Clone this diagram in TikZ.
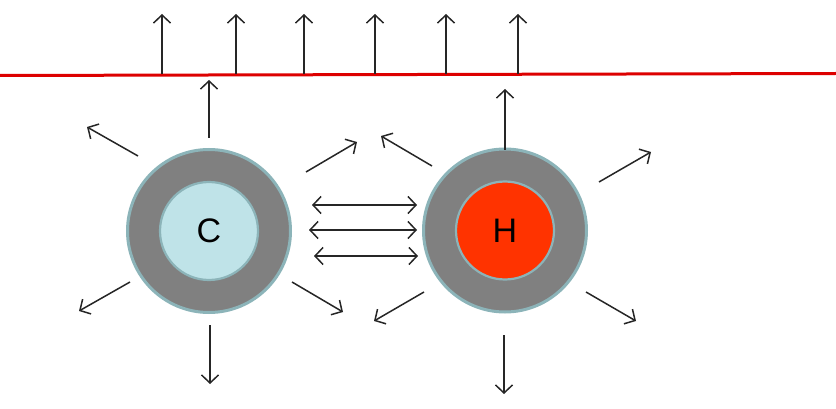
\documentclass[tikz,border=0pt]{standalone}
\usepackage{fontspec}
\setmainfont{Liberation Sans}
\usetikzlibrary{arrows.meta}
\definecolor{rim}{HTML}{8CB4B9}
\definecolor{shell}{HTML}{808080}
\definecolor{coldcore}{HTML}{BFE3E8}
\definecolor{hotcore}{HTML}{FF3300}
\definecolor{surface}{HTML}{DD0000}
\begin{document}
\begin{tikzpicture}[x=1pt,y=-1pt,
  flow/.style={line width=1.5pt,draw=black!85,-{Straight Barb[length=8pt,width=17pt,line width=1.5pt]}},
  flowboth/.style={line width=1.5pt,draw=black!85,{Straight Barb[length=8pt,width=17pt,line width=1.5pt]}-{Straight Barb[length=8pt,width=17pt,line width=1.5pt]}},
  shellball/.style={circle,fill=shell,draw=rim,line width=3pt,minimum size=163pt,inner sep=0pt},
  coreball/.style={circle,draw=rim,line width=2.2pt,minimum size=98pt,inner sep=0pt,font=\fontsize{34}{34}\selectfont}]
\useasboundingbox (0,0) rectangle (836,409);
% red surface line
\coordinate (sl) at (0,75.5);
\coordinate (sr) at (836,73.5);
\draw[surface,line width=3pt] (sl) -- (sr);
% top arrows
\foreach \i/\x in {1/162,2/236,3/304,4/375,5/446,6/518}{
  \coordinate (b\i) at (\x,74);
  \coordinate (t\i) at (\x,14);
  \draw[flow] (b\i) -- (t\i);
}
% spheres
\node[shellball] (Cs) at (209,231) {};
\node[coreball,fill=coldcore] (C) at (209,231) {C};
\node[shellball] (Hs) at (505,230.5) {};
\node[coreball,fill=hotcore] (H) at (505,230.5) {H};
% arrows around C
\coordinate (cu0) at (209,138); \coordinate (cu1) at (209,80);
\coordinate (cul0) at (138,156); \coordinate (cul1) at (87,127);
\coordinate (cur0) at (306,172); \coordinate (cur1) at (357,142);
\coordinate (cdl0) at (130,282); \coordinate (cdl1) at (79,311);
\coordinate (cdr0) at (292,282); \coordinate (cdr1) at (343,312);
\coordinate (cd0) at (210,325); \coordinate (cd1) at (210,384);
\draw[flow] (cu0) -- (cu1);
\draw[flow] (cul0) -- (cul1);
\draw[flow] (cur0) -- (cur1);
\draw[flow] (cdl0) -- (cdl1);
\draw[flow] (cdr0) -- (cdr1);
\draw[flow] (cd0) -- (cd1);
% arrows around H
\coordinate (hu0) at (505,150); \coordinate (hu1) at (505,89);
\coordinate (hul0) at (432,166); \coordinate (hul1) at (381,136);
\coordinate (hur0) at (599,182); \coordinate (hur1) at (651,152);
\coordinate (hdl0) at (424,292); \coordinate (hdl1) at (374,321);
\coordinate (hdr0) at (586,292); \coordinate (hdr1) at (636,321);
\coordinate (hd0) at (504,335); \coordinate (hd1) at (504,394);
\draw[flow] (hu0) -- (hu1);
\draw[flow] (hul0) -- (hul1);
\draw[flow] (hur0) -- (hur1);
\draw[flow] (hdl0) -- (hdl1);
\draw[flow] (hdr0) -- (hdr1);
\draw[flow] (hd0) -- (hd1);
% exchange arrows
\coordinate (e1a) at (312,205); \coordinate (e1b) at (417,205);
\coordinate (e2a) at (309,230); \coordinate (e2b) at (417,230);
\coordinate (e3a) at (314,256); \coordinate (e3b) at (418,256);
\draw[flowboth] (e1a) -- (e1b);
\draw[flowboth] (e2a) -- (e2b);
\draw[flowboth] (e3a) -- (e3b);
\end{tikzpicture}
\end{document}
